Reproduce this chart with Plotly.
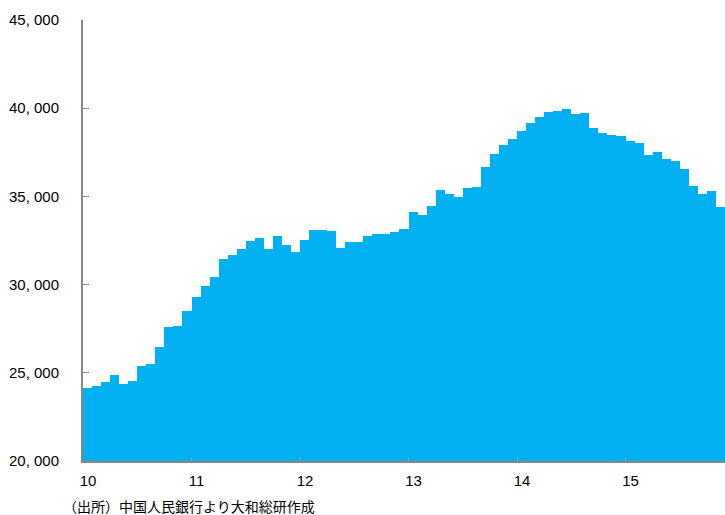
import plotly.graph_objects as go

# Monthly values, Jan 2010 - Nov 2015
values = [
    24140, 24270, 24460, 24890, 24380, 24535, 25385, 25480, 26480, 27610, 27670, 28490,
    29315, 29920, 30450, 31450, 31680, 32000, 32470, 32640, 32035, 32755, 32225, 31830,
    32545, 33095, 33075, 33020, 32075, 32415, 32415, 32735, 32870, 32890, 33000, 33150,
    34115, 33960, 34440, 35360, 35155, 34985, 35495, 35530, 36650, 37385, 37915, 38235,
    38690, 39160, 39500, 39800, 39855, 39955, 39690, 39730, 38900, 38575, 38500, 38445,
    38160, 38045, 37330, 37520, 37140, 36990, 36550, 35590, 35155, 35290, 34400,
]
year_labels = ["10", "11", "12", "13", "14", "15"]
y_tickvals = [20000, 25000, 30000, 35000, 40000, 45000]
y_ticktext = ["20, 000", "25, 000", "30, 000", "35, 000", "40, 000", "45, 000"]
source_text = "（出所）中国人民銀行より大和総研作成"

months = list(range(len(values)))
year_starts = [i * 12 - 0.5 for i in range(len(year_labels))]

font_fam = "Liberation Sans Narrow, Liberation Sans, Noto Sans CJK JP, sans-serif"

fig = go.Figure(go.Bar(
    x=months, y=values, width=1.0,
    marker=dict(color="#00B0F0", line=dict(width=0)),
))

fig.update_layout(
    width=725, height=515,
    margin=dict(l=83, r=0, t=20, b=54),
    plot_bgcolor="white", paper_bgcolor="white",
    showlegend=False, bargap=0,
    font=dict(family=font_fam, size=15, color="#000"),
    xaxis=dict(
        range=[-0.5, len(values) - 0.5],
        tickmode="array", tickvals=year_starts, ticktext=year_labels,
        ticks="inside", ticklen=4, tickcolor="#999", tickwidth=1,
        ticklabelshift=5, ticklabelstandoff=5,
        showline=True, linecolor="#888", linewidth=2,
        showgrid=False, zeroline=False,
        tickfont=dict(family=font_fam, size=15),
    ),
    yaxis=dict(
        range=[20000, 45000],
        tickmode="array", tickvals=y_tickvals, ticktext=y_ticktext,
        ticks="inside", ticklen=6, tickcolor="#888", tickwidth=1,
        ticklabelstandoff=19,
        showline=True, linecolor="#888", linewidth=2,
        showgrid=False, zeroline=False,
        tickfont=dict(family=font_fam, size=15),
    ),
    annotations=[dict(
        text=source_text, xref="paper", yref="paper",
        x=(61 - 83) / 642, y=(461 - 506) / 441,
        xanchor="left", yanchor="middle", showarrow=False,
        font=dict(family="Noto Sans CJK JP", size=14, color="#000"),
    )],
)

fig.write_html("out.html")
